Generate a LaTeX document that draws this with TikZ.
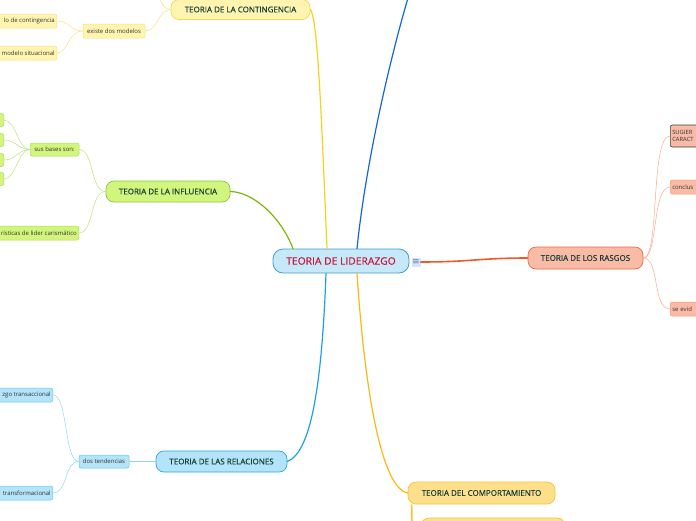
\documentclass[tikz,border=0pt]{standalone}
\usepackage{fontspec}
\setmainfont{Open Sans}
\newfontfamily\semib[FakeBold=0.5]{Open Sans}
\newfontfamily\symfont{DejaVu Sans}
\definecolor{cFill}{HTML}{C6E9FA}
\definecolor{cBorder}{HTML}{3F9AD6}
\definecolor{cRed}{HTML}{C8163A}
\definecolor{txtDark}{HTML}{173F35}
\definecolor{leafTxt}{HTML}{333333}
\definecolor{yFill}{HTML}{FFF5B0}
\definecolor{yBorder}{HTML}{F2D84A}
\definecolor{yLine}{HTML}{F3D21A}
\definecolor{yLeafB}{HTML}{F5E27A}
\definecolor{gFill}{HTML}{D2F57E}
\definecolor{gBorder}{HTML}{8CC63F}
\definecolor{gLine}{HTML}{7CB60A}
\definecolor{gLeafB}{HTML}{B0DA5A}
\definecolor{gLeafLine}{HTML}{C2E07E}
\definecolor{bFill}{HTML}{B3E4FA}
\definecolor{bBorder}{HTML}{2AA6E2}
\definecolor{bLine}{HTML}{1BA1E2}
\definecolor{bLeafB}{HTML}{62C6F0}
\definecolor{bLeafLine}{HTML}{8ED6F5}
\definecolor{topBlue}{HTML}{1565D8}
\definecolor{rFill}{HTML}{F9BAA6}
\definecolor{rBorder}{HTML}{F06A3A}
\definecolor{rLine}{HTML}{F05A28}
\definecolor{rLeafB}{HTML}{F59A7A}
\definecolor{rLeafLine}{HTML}{F8AA90}
\definecolor{oFill}{HTML}{FDDF8C}
\definecolor{oBorder}{HTML}{F8C233}
\definecolor{oLine}{HTML}{FBB812}
\definecolor{iconFill}{HTML}{CDEAFA}
\definecolor{iconTxt}{HTML}{7A6FB0}
\begin{document}
\begin{tikzpicture}[x=1pt,y=-1pt,
  central/.style={draw=cBorder, fill=cFill, rounded corners=10pt, line width=0.8pt,
    minimum width=136pt, minimum height=24pt, inner sep=0pt, text=cRed,
    font=\semib\fontsize{10.3}{12}\selectfont},
  branch/.style={rounded corners=8pt, line width=0.7pt, inner sep=0pt, text=txtDark,
    font=\semib\fontsize{8}{9}\selectfont},
  leaf/.style={rounded corners=2pt, line width=0.5pt, inner sep=2pt, text=leafTxt,
    minimum height=14pt, font=\fontsize{6}{7}\selectfont},
  yleaf/.style={leaf, draw=yLeafB, fill=yFill},
  gleaf/.style={leaf, draw=gLeafB, fill=gFill, minimum height=13pt},
  bleaf/.style={leaf, draw=bLeafB, fill=bFill},
  rleaf/.style={leaf, draw=rLeafB, fill=rFill},
  mainline/.style={line width=1.2pt, line cap=round},
  subline/.style={line width=0.5pt}
]
\useasboundingbox (0,0) rectangle (696,520);

% central
\node[central] (central) at (341,261) {TEORIA DE LIDERAZGO};
\node[fill=iconFill, inner sep=0.5pt, minimum width=9pt, minimum height=9pt,
  text=iconTxt, font=\symfont\fontsize{9}{9}\selectfont] (icon) at (416,262) {≡};

% main branches
\node[branch, draw=yBorder, fill=yFill, minimum width=139pt, minimum height=20pt]
  (conting) at (240.5,9.5) {TEORIA DE LA CONTINGENCIA};
\node[branch, draw=gBorder, fill=gFill, minimum width=124pt, minimum height=21pt]
  (influ) at (168,191.5) {TEORIA DE LA INFLUENCIA};
\node[branch, draw=bBorder, fill=bFill, minimum width=131pt, minimum height=21pt]
  (relac) at (221.5,461.5) {TEORIA DE LAS RELACIONES};
\node[branch, draw=rBorder, fill=rFill, minimum width=115pt, minimum height=22pt]
  (rasgos) at (585.5,258) {TEORIA DE LOS RASGOS};
\node[branch, draw=oBorder, fill=oFill, minimum width=147pt, minimum height=22pt]
  (comport) at (481.5,493) {TEORIA DEL COMPORTAMIENTO};
\node[branch, draw=oBorder, fill=oFill, minimum width=144pt, minimum height=22pt]
  (compchild) at (493,529) {};

\coordinate (topend) at (411,-12);
\coordinate (contup) at (150,-14);

% leaves contingencia
\node[yleaf, minimum width=62pt] (existe) at (114,31) {existe dos modelos};
\node[yleaf, anchor=east] (lo) at (57,21) {\hspace*{20pt}lo de contingencia};
\node[yleaf, anchor=east] (situ) at (57,53) {\hspace*{20pt}modelo situacional};

% leaves influencia
\node[gleaf, minimum width=49pt] (bases) at (54.5,149.5) {sus bases son:};
\node[gleaf, anchor=east, minimum width=20pt] (b1) at (4,120) {};
\node[gleaf, anchor=east, minimum width=20pt] (b2) at (4,140) {};
\node[gleaf, anchor=east, minimum width=20pt] (b3) at (4,160) {};
\node[gleaf, anchor=east, minimum width=20pt] (b4) at (4,179) {};
\node[gleaf, anchor=east, minimum height=14pt] (caris) at (79,233) {\hspace*{20pt}rísticas de lider carismático};

% leaves relaciones
\node[bleaf, minimum width=50pt, minimum height=13pt] (tend) at (104,461.5) {dos tendencias};
\node[bleaf, anchor=east] (transa) at (53,395) {\hspace*{20pt}zgo transaccional};
\node[bleaf, anchor=east] (transf) at (53,493) {\hspace*{20pt}transformacional};

% leaves rasgos
\node[rleaf, anchor=west, draw=black!75, line width=0.6pt, minimum height=22pt,
  text width=45pt, align=left, font=\fontsize{5.8}{7.5}\selectfont] (sugier) at (670,136) {SUGIER\\CARACT};
\node[rleaf, anchor=west, text width=45pt, align=left] (conclus) at (670,187) {conclus};
\node[rleaf, anchor=west, text width=45pt, align=left] (sevid) at (670,309) {se evid};

% main connectors
\draw[mainline, yLine] ([xshift=-14pt]central.north) .. controls (322,130) and (318,18) .. (conting.east);
\draw[mainline, gLine] ([xshift=-48pt]central.north) .. controls (280,215) and (252,192) .. (influ.east);
\draw[mainline, topBlue] ([xshift=16pt]central.north) .. controls (366,160) and (392,50) .. (topend);
\draw[mainline, bLine] ([xshift=-15pt]central.south) .. controls (322,380) and (312,452) .. (relac.east);
\draw[mainline, oLine] ([xshift=16pt]central.south) .. controls (364,380) and (380,488) .. (comport.west);
\draw[mainline, rLine, line width=1.6pt] (icon.east) .. controls (470,262) and (480,258) .. (rasgos.west);
\draw[line width=1.6pt, oBorder] ([xshift=4pt]comport.south west) -- (412,529) -- (compchild.west);

% sub connectors contingencia
\draw[subline, yLeafB] (conting.west) .. controls (158,9.5) and (158,31) .. (existe.east);
\draw[subline, yLeafB] (conting.west) .. controls (160,9.5) and (160,-8) .. (contup);
\draw[subline, yLeafB] (existe.west) .. controls (70,31) and (70,21) .. (lo.east);
\draw[subline, yLeafB] (existe.west) .. controls (68,31) and (68,53) .. (situ.east);

% sub connectors influencia
\draw[subline, gLeafLine] (influ.west) .. controls (90,191.5) and (94,149.5) .. (bases.east);
\draw[subline, gLeafLine] (influ.west) .. controls (90,191.5) and (94,233) .. (caris.east);
\foreach \b in {b1,b2,b3,b4}
  \draw[subline, gLeafLine] (bases.west) .. controls (18,149.5) and (16,0|-\b.east) .. (\b.east);

% sub connectors relaciones
\draw[subline, bLeafLine] (relac.west) -- (tend.east);
\draw[subline, bLeafLine] (tend.west) .. controls (64,461.5) and (68,395) .. (transa.east);
\draw[subline, bLeafLine] (tend.west) .. controls (64,461.5) and (68,493) .. (transf.east);

% sub connectors rasgos
\draw[subline, rLeafLine] (rasgos.east) .. controls (660,258) and (650,136) .. (sugier.west);
\draw[subline, rLeafLine] (rasgos.east) .. controls (658,258) and (652,187) .. (conclus.west);
\draw[subline, rLeafLine] (rasgos.east) .. controls (660,258) and (652,309) .. (sevid.west);
\end{tikzpicture}
\end{document}
